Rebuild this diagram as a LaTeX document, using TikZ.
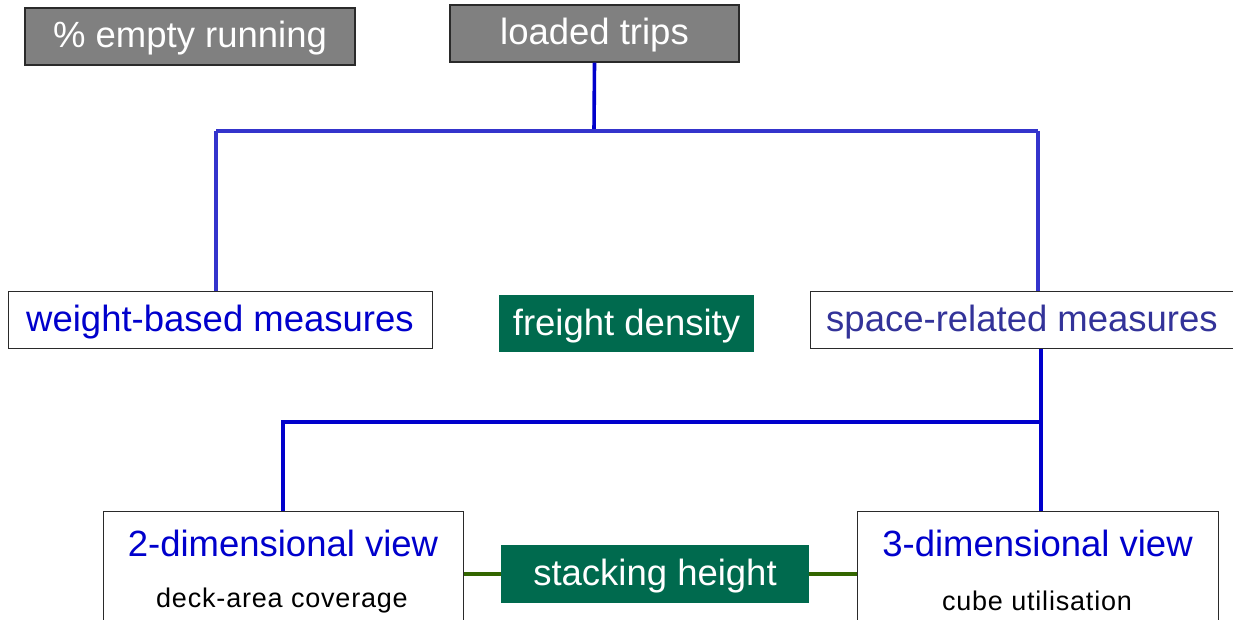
\documentclass[tikz,border=0pt]{standalone}
\usepackage{fontspec}
\setmainfont{Liberation Sans}
\newfontfamily\spacedsans[LetterSpace=3]{Liberation Sans}
\definecolor{boxgray}{HTML}{808080}
\definecolor{edgegray}{HTML}{2A2A2A}
\definecolor{deepgreen}{HTML}{006A4E}
\definecolor{treeblue}{HTML}{0000CC}
\definecolor{barblue}{HTML}{3434CC}
\definecolor{spaceblue}{HTML}{333399}
\definecolor{olive}{HTML}{336600}
\tikzset{
  bigtext/.style={font=\fontsize{36.5}{42}\selectfont, text height=31pt, text depth=8pt},
  graybox/.style={draw=edgegray, line width=1.2pt, fill=boxgray, text=white,
    inner sep=0pt, bigtext},
  whitebox/.style={draw=edgegray, line width=1pt, fill=white,
    inner sep=0pt, bigtext},
  greenbox/.style={fill=deepgreen, text=white, inner sep=0pt, bigtext},
  viewbox/.style={draw=edgegray, line width=1pt, fill=white, inner sep=0pt},
  treeline/.style={treeblue, line width=3.6pt},
  barline/.style={barblue, line width=3.6pt},
  linkline/.style={olive, line width=3.6pt},
  title/.style={text=treeblue, font=\fontsize{36.5}{42}\selectfont, inner sep=0pt},
  subtitle/.style={text=black, font=\spacedsans\fontsize{27}{32}\selectfont, inner sep=0pt},
}
\begin{document}
\begin{tikzpicture}[x=1pt, y=-1pt]
  \useasboundingbox (0,0) rectangle (1233,620);
  \clip (0,0) rectangle (1233,620);
  \fill[white] (0,0) rectangle (1233,620);

  % top row
  \node[graybox, minimum width=330pt, minimum height=57pt] (empty) at (190,36.5) {\% empty running};
  \node[graybox, minimum width=289pt, minimum height=57pt] (loaded) at (594.5,33.5) {loaded trips};

  % middle row
  \node[whitebox, text=treeblue, minimum width=424pt, minimum height=57pt] (weight) at (220,319.5) {weight-based measures};
  \node[greenbox, minimum width=255pt, minimum height=57pt] (density) at (626.5,323.5) {freight density};
  \node[whitebox, text=spaceblue, minimum width=424pt, minimum height=57pt] (space) at (1022,319.5) {space-related measures};

  % bottom row
  \node[viewbox, minimum width=360pt, minimum height=140pt, anchor=north] (twod) at (283,511) {};
  \node[title] (twodtitle) at (283,543) {2-dimensional view};
  \node[subtitle] (twodsub) at (282,601) {deck-area coverage};
  \node[viewbox, minimum width=361pt, minimum height=140pt, anchor=north] (threed) at (1037.5,511) {};
  \node[title] (threedtitle) at (1037.5,543) {3-dimensional view};
  \node[subtitle] (threedsub) at (1037,601) {cube utilisation};
  \node[greenbox, minimum width=308pt, minimum height=58pt] (stack) at (655,574) {stacking height};

  % upper tree
  \coordinate (topmid) at (594,131);
  \coordinate (topleft) at (216,131);
  \coordinate (topright) at (1038,131);
  \draw[treeline] (loaded.south) -- (topmid);
  \draw[barline] (topleft) -- (topright);
  \draw[barline] (topleft) -- (topleft |- weight.north);
  \draw[barline] (topright) -- (topright |- space.north);

  % lower tree
  \coordinate (lowright) at (1041,422);
  \coordinate (lowleft) at (283,422);
  \draw[treeline] (space.south -| lowright) -- (lowright |- threed.north);
  \draw[treeline] (lowright) -- (lowleft) -- (twod.north);

  % stacking height links
  \draw[linkline] (twod.east |- stack.west) -- (stack.west);
  \draw[linkline] (stack.east) -- (threed.west |- stack.east);
\end{tikzpicture}
\end{document}
